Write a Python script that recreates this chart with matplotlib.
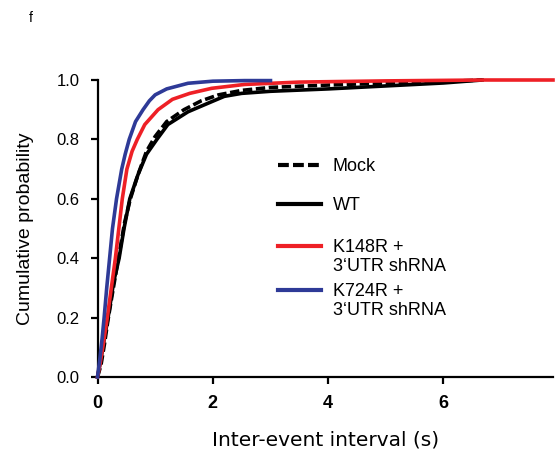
import matplotlib
matplotlib.use("Agg")
import matplotlib.pyplot as plt
from matplotlib.lines import Line2D

plt.rcParams['font.family'] = ['Liberation Sans', 'DejaVu Sans']

# Cumulative distributions
mock_x = [0.0, 0.06, 0.12, 0.18, 0.24, 0.31, 0.39, 0.47, 0.57, 0.7, 0.85, 1.0, 1.2, 1.5, 1.8, 2.1, 2.5, 3.0, 4.0, 5.0, 6.0, 6.67]
mock_y = [0.0, 0.04, 0.11, 0.19, 0.26, 0.34, 0.43, 0.52, 0.6, 0.68, 0.76, 0.81, 0.86, 0.9, 0.93, 0.95, 0.965, 0.975, 0.983, 0.99, 0.995, 1.0]

wt_x = [0.0, 0.05, 0.12, 0.2, 0.28, 0.375, 0.46, 0.56, 0.7, 0.85, 1.03, 1.22, 1.57, 1.98, 2.2, 2.5, 3.0, 4.0, 5.0, 6.0, 6.67]
wt_y = [0.0, 0.05, 0.13, 0.22, 0.32, 0.4, 0.5, 0.6, 0.68, 0.75, 0.8, 0.85, 0.893, 0.927, 0.945, 0.955, 0.962, 0.97, 0.98, 0.99, 1.0]

k148_x = [0.0, 0.05, 0.1, 0.17, 0.24, 0.31, 0.37, 0.43, 0.51, 0.6, 0.69, 0.82, 1.05, 1.3, 1.6, 1.98, 2.55, 3.5, 5.0, 6.7, 7.9]
k148_y = [0.0, 0.05, 0.11, 0.2, 0.3, 0.4, 0.5, 0.6, 0.7, 0.76, 0.8, 0.85, 0.9, 0.935, 0.955, 0.972, 0.985, 0.993, 0.997, 1.0, 1.0]

k724_x = [0.0, 0.04, 0.08, 0.115, 0.16, 0.21, 0.26, 0.33, 0.42, 0.48, 0.55, 0.66, 0.79, 0.9, 1.0, 1.2, 1.57, 2.0, 2.55, 3.0]
k724_y = [0.0, 0.06, 0.13, 0.2, 0.3, 0.4, 0.5, 0.6, 0.7, 0.75, 0.8, 0.86, 0.9, 0.93, 0.95, 0.97, 0.989, 0.996, 0.998, 0.998]

labels = ["Mock", "WT", "K148R +\n3\u2018UTR shRNA", "K724R +\n3\u2018UTR shRNA"]
colors = ["black", "black", "#ee2026", "#2e3a97"]
styles = ["--", "-", "-", "-"]

x_ticks = [0, 2, 4, 6]
y_ticks = [0.0, 0.2, 0.4, 0.6, 0.8, 1.0]

W, H = 560, 458
fig = plt.figure(figsize=(W / 100, H / 100), dpi=100)
ax = fig.add_axes([97.5 / W, 1 - 377 / H, (553 - 97.5) / W, (377 - 80) / H])

series = [(mock_x, mock_y), (wt_x, wt_y), (k148_x, k148_y), (k724_x, k724_y)]
dash = (2.6, 1.0)
for i in [1, 0, 2, 3]:
    xs, ys = series[i]
    kw = dict(dashes=dash) if styles[i] == "--" else {}
    ax.plot(xs, ys, color=colors[i], lw=2.6, clip_on=False, solid_joinstyle='round',
            zorder=3 + (i >= 2), **kw)

ax.set_xlim(0, 7.9)
ax.set_ylim(0, 1.0)
ax.set_xticks(x_ticks)
ax.set_xticklabels([str(t) for t in x_ticks], fontsize=13, fontweight='bold')
ax.set_yticks(y_ticks)
ax.set_yticklabels([f"{t:.1f}" for t in y_ticks], fontsize=12)
for s in ['top', 'right']:
    ax.spines[s].set_visible(False)
for s in ['left', 'bottom']:
    ax.spines[s].set_linewidth(1.6)
ax.tick_params(axis='both', direction='out', length=5, width=1.6, pad=8)

ax.set_xlabel("Inter-event interval (s)", fontsize=14.5, family=['DejaVu Sans'], labelpad=13)
ax.set_ylabel("Cumulative probability", fontsize=14, labelpad=16)

# legend drawn by hand: handle aligned to the first text line
leg_y = [165, 204, 246, 290]
for i in range(4):
    y = 1 - leg_y[i] / H
    kw = dict(dashes=dash) if styles[i] == "--" else {}
    fig.add_artist(Line2D([278 / W, 321 / W], [y, y], color=colors[i], lw=3.0,
                          transform=fig.transFigure, **kw))
    fig.text(333 / W, y + 7 / H, labels[i], fontsize=13, va='top', ha='left',
             linespacing=1.15)

fig.text(31 / W, 1 - 18 / H, "f", fontsize=10, va='center', ha='center')

fig.savefig("out.png", dpi=100)
